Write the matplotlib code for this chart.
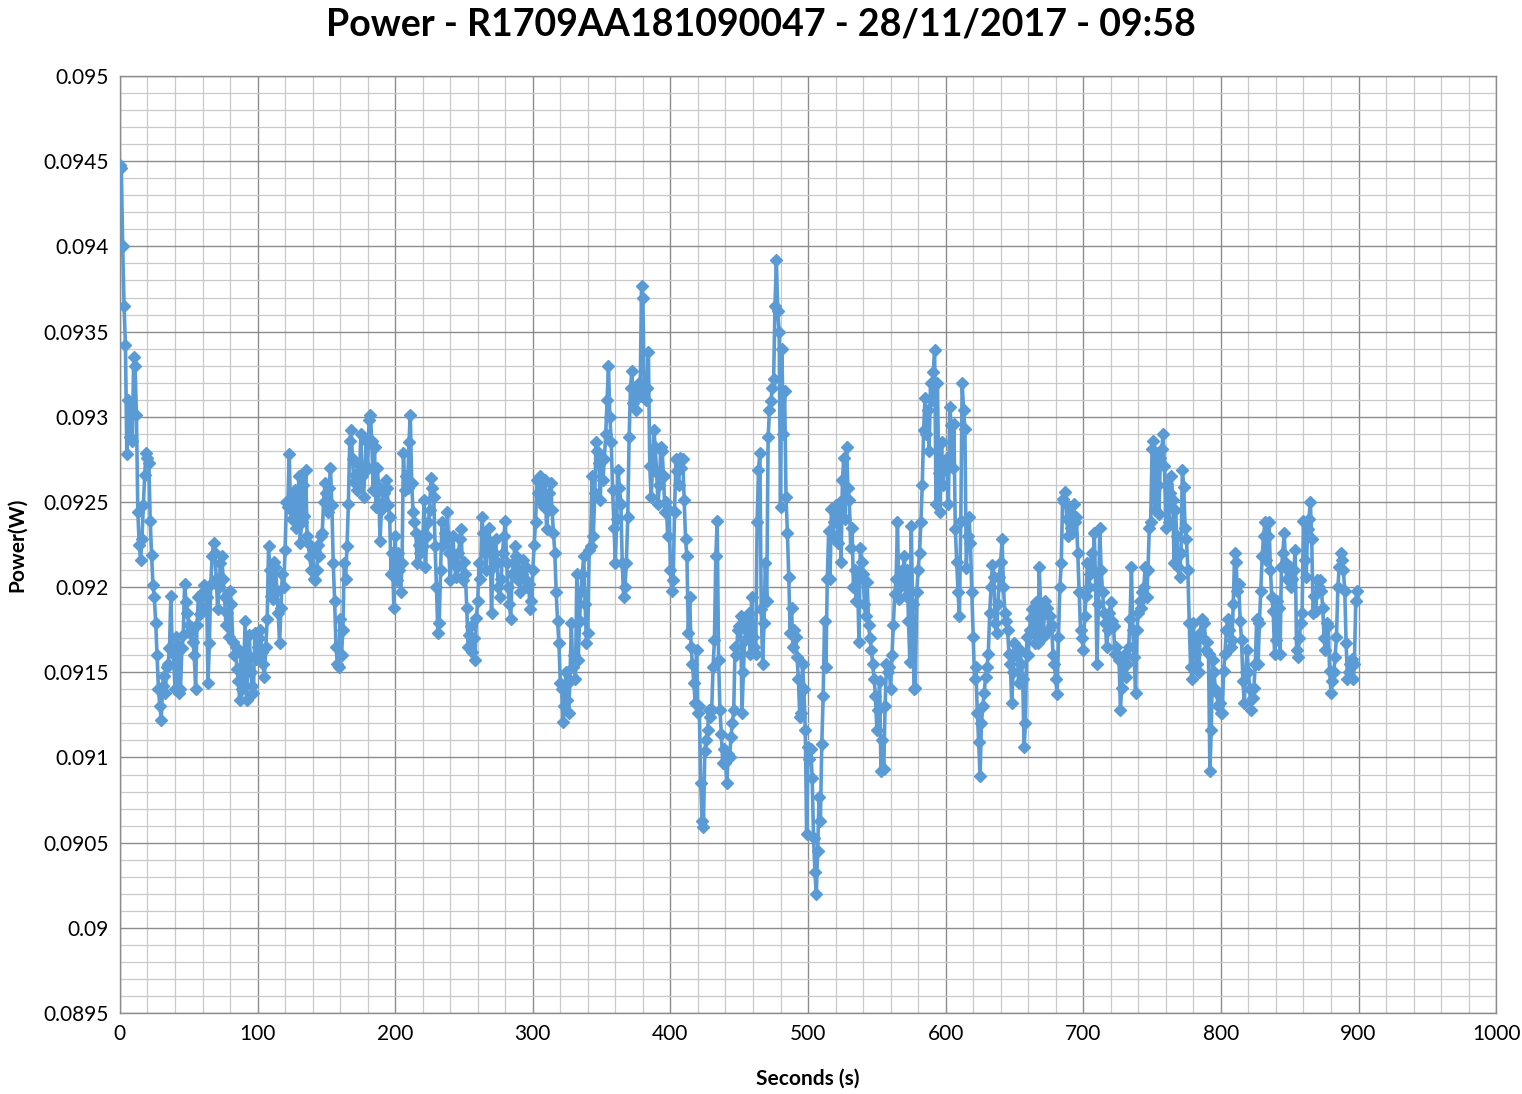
import matplotlib.pyplot as plt
import numpy as np

plt.rcParams['font.family'] = ['Lato', 'DejaVu Sans']

chart_title = 'Power - R1709AA181090047 - 28/11/2017 - 09:58'
x_label = 'Seconds (s)'
y_label = 'Power(W)'

# power readings in mW, one per second (20 s per row)
power_mw = [
    94.48, 94.46, 94.00, 93.65, 93.42, 92.78, 93.10, 92.88, 93.05, 92.86, 93.35, 93.30, 93.01, 92.44, 92.25, 92.16, 92.28, 92.48, 92.66, 92.79,
    92.76, 92.73, 92.39, 92.19, 92.01, 91.94, 91.79, 91.60, 91.40, 91.30, 91.22, 91.42, 91.48, 91.38, 91.53, 91.55, 91.64, 91.95, 91.64, 91.60,
    91.40, 91.71, 91.66, 91.38, 91.40, 91.64, 91.72, 92.02, 91.91, 91.85, 91.78, 91.73, 91.75, 91.68, 91.60, 91.40, 91.78, 91.94, 91.84, 91.96,
    91.88, 92.01, 91.97, 91.94, 91.44, 91.67, 92.02, 92.18, 92.26, 92.20, 92.05, 91.87, 92.00, 92.14, 92.18, 92.05, 91.94, 91.78, 91.85, 91.71,
    91.98, 91.90, 91.68, 91.60, 91.65, 91.52, 91.45, 91.34, 91.62, 91.40, 91.55, 91.80, 91.34, 91.60, 91.72, 91.50, 91.42, 91.38, 91.73, 91.58,
    91.65, 91.70, 91.75, 91.62, 91.55, 91.47, 91.65, 91.81, 92.24, 92.10, 91.95, 91.93, 92.15, 92.12, 91.98, 91.85, 91.67, 91.88, 92.08, 92.00,
    92.22, 92.50, 92.47, 92.78, 92.45, 92.40, 92.55, 92.57, 92.35, 92.42, 92.65, 92.26, 92.38, 92.60, 92.42, 92.69, 92.30, 92.26, 92.18, 92.10,
    92.22, 92.05, 92.04, 92.10, 92.25, 92.18, 92.30, 92.32, 92.50, 92.61, 92.55, 92.44, 92.58, 92.70, 92.48, 92.14, 91.92, 91.65, 91.55, 91.53,
    91.81, 91.60, 91.75, 92.14, 92.05, 92.24, 92.49, 92.86, 92.92, 92.75, 92.62, 92.66, 92.57, 92.72, 92.60, 92.90, 92.65, 92.53, 92.68, 92.86,
    92.70, 92.98, 93.01, 92.86, 92.57, 92.82, 92.47, 92.70, 92.59, 92.27, 92.45, 92.50, 92.55, 92.63, 92.58, 92.48, 92.41, 92.08, 92.20, 91.88,
    92.30, 92.04, 92.20, 92.10, 91.97, 92.14, 92.79, 92.57, 92.65, 92.58, 92.85, 93.01, 92.61, 92.44, 92.38, 92.32, 92.14, 92.25, 92.20, 92.30,
    92.24, 92.51, 92.12, 92.30, 92.38, 92.45, 92.64, 92.58, 92.53, 92.24, 92.00, 91.73, 91.79, 92.10, 92.38, 92.25, 92.32, 92.28, 92.44, 92.20,
    92.04, 92.20, 92.30, 92.15, 92.06, 92.12, 92.20, 92.28, 92.34, 92.04, 92.15, 92.08, 91.88, 91.65, 91.72, 91.77, 91.62, 91.70, 91.57, 91.82,
    91.92, 92.14, 92.05, 92.41, 92.32, 92.20, 92.10, 92.28, 92.35, 92.24, 91.85, 92.12, 92.20, 92.28, 92.15, 92.00, 91.94, 92.05, 92.20, 92.30,
    92.39, 92.14, 92.00, 91.90, 91.81, 92.08, 92.15, 92.24, 92.18, 92.04, 92.10, 91.97, 92.08, 92.16, 92.05, 92.12, 92.00, 92.02, 91.87, 91.92,
    92.10, 92.25, 92.38, 92.63, 92.55, 92.65, 92.50, 92.60, 92.47, 92.63, 92.34, 92.45, 92.55, 92.61, 92.45, 92.32, 92.20, 91.97, 91.80, 91.67,
    91.44, 91.40, 91.21, 91.30, 91.50, 91.34, 91.26, 91.45, 91.79, 91.53, 91.60, 91.46, 92.08, 91.57, 91.80, 91.98, 92.08, 92.18, 91.90, 91.67,
    91.73, 92.22, 92.24, 92.65, 92.30, 92.55, 92.85, 92.80, 92.73, 92.51, 92.76, 92.63, 92.75, 92.90, 93.10, 93.30, 93.00, 92.85, 92.57, 92.35,
    92.14, 92.40, 92.69, 92.58, 92.49, 92.14, 91.94, 92.00, 92.14, 92.41, 92.88, 93.17, 93.27, 93.08, 93.12, 93.04, 93.14, 93.20, 93.12, 93.77,
    93.70, 93.16, 93.10, 93.17, 93.38, 92.71, 92.53, 92.70, 92.92, 92.82, 92.67, 92.49, 92.60, 92.82, 92.80, 92.65, 92.44, 92.50, 92.30, 92.45,
    92.10, 91.98, 92.04, 92.44, 92.75, 92.68, 92.60, 92.76, 92.70, 92.75, 92.51, 92.28, 92.18, 91.73, 91.94, 91.65, 91.55, 91.44, 91.32, 91.63,
    91.26, 91.30, 90.85, 90.63, 90.59, 91.04, 91.10, 91.16, 91.28, 91.24, 91.28, 91.53, 91.69, 92.18, 92.39, 91.57, 91.28, 91.14, 90.97, 91.05,
    90.97, 90.85, 91.02, 91.00, 91.12, 91.20, 91.28, 91.65, 91.60, 91.75, 91.77, 91.83, 91.26, 91.50, 91.69, 91.75, 91.80, 91.85, 91.61, 91.94,
    91.71, 91.65, 91.61, 92.38, 92.69, 92.79, 91.87, 91.55, 91.79, 92.14, 91.92, 92.88, 93.04, 93.09, 93.17, 93.22, 93.65, 93.92, 93.62, 93.50,
    92.47, 93.40, 92.90, 93.15, 92.53, 92.32, 92.06, 91.73, 91.88, 91.65, 91.75, 91.71, 91.59, 91.46, 91.24, 91.26, 91.55, 91.40, 91.16, 90.55,
    91.06, 90.99, 91.05, 90.88, 90.53, 90.33, 90.20, 90.45, 90.77, 90.63, 91.08, 91.36, 91.80, 91.53, 92.05, 92.33, 92.05, 92.46, 92.30, 92.38,
    92.48, 92.41, 92.26, 92.50, 92.15, 92.63, 92.76, 92.40, 92.82, 92.58, 92.51, 92.23, 92.35, 92.00, 92.10, 91.92, 92.05, 91.68, 92.23, 92.15,
    92.08, 91.90, 91.83, 92.03, 91.78, 91.70, 91.63, 91.55, 91.46, 91.36, 91.16, 91.28, 91.45, 90.92, 91.10, 90.93, 91.30, 91.55, 91.50, 91.53,
    91.40, 91.60, 91.78, 91.96, 92.05, 92.38, 91.93, 92.00, 92.10, 92.05, 92.18, 91.95, 92.10, 91.80, 91.56, 92.36, 91.90, 91.40, 91.41, 91.97,
    92.10, 92.20, 92.38, 92.60, 92.92, 93.11, 92.90, 93.04, 92.80, 93.20, 93.10, 93.26, 93.39, 92.49, 93.20, 92.67, 92.44, 92.85, 92.60, 92.70,
    92.69, 92.76, 92.49, 93.06, 92.95, 92.70, 92.96, 92.34, 92.15, 91.97, 91.83, 92.39, 93.20, 93.04, 92.93, 92.11, 92.30, 92.41, 92.26, 91.97,
    91.71, 91.46, 91.53, 91.26, 91.09, 90.89, 91.20, 91.30, 91.38, 91.47, 91.53, 91.61, 91.85, 92.00, 92.13, 92.06, 91.79, 91.73, 91.90, 92.06,
    92.15, 92.28, 92.00, 91.85, 91.80, 91.75, 91.61, 91.55, 91.32, 91.50, 91.67, 91.60, 91.63, 91.44, 91.63, 91.55, 91.46, 91.06, 91.20, 91.71,
    91.60, 91.75, 91.82, 91.87, 91.75, 91.67, 91.91, 91.67, 92.12, 91.90, 91.75, 91.71, 91.92, 91.85, 91.88, 91.75, 91.83, 91.78, 91.60, 91.55,
    91.46, 91.37, 91.71, 92.00, 92.14, 92.52, 92.50, 92.56, 92.40, 92.30, 92.47, 92.35, 92.32, 92.49, 92.38, 92.41, 92.20, 91.97, 91.75, 91.70,
    91.63, 91.83, 91.95, 92.14, 92.00, 92.08, 92.20, 92.10, 92.32, 92.00, 91.55, 91.90, 92.35, 92.10, 91.97, 91.85, 91.79, 91.65, 91.75, 91.85,
    91.91, 91.80, 91.77, 91.61, 91.65, 91.60, 91.57, 91.28, 91.41, 91.55, 91.61, 91.47, 91.55, 91.65, 91.81, 92.12, 91.75, 91.59, 91.38, 91.75,
    91.85, 91.92, 91.88, 91.97, 92.00, 92.12, 91.94, 92.10, 92.35, 92.38, 92.81, 92.86, 92.45, 92.79, 92.60, 92.43, 92.76, 92.81, 92.90, 92.71,
    92.35, 92.60, 92.38, 92.55, 92.65, 92.51, 92.14, 92.45, 92.30, 92.12, 92.06, 92.20, 92.69, 92.59, 92.35, 92.28, 92.10, 91.79, 91.53, 91.46,
    91.79, 91.61, 91.70, 91.55, 91.50, 91.73, 91.81, 91.70, 91.79, 91.63, 91.68, 91.61, 90.92, 91.16, 91.57, 91.50, 91.40, 91.38, 91.30, 91.32,
    91.26, 91.26, 91.51, 91.61, 91.75, 91.81, 91.75, 91.65, 91.69, 91.90, 92.20, 92.15, 91.98, 92.02, 91.80, 91.69, 91.45, 91.32, 91.50, 91.63,
    91.50, 91.40, 91.28, 91.35, 91.41, 91.55, 91.81, 91.55, 91.79, 91.98, 92.18, 92.30, 92.38, 92.16, 92.30, 92.38, 92.10, 91.94, 91.86, 91.61,
    91.69, 91.92, 91.88, 91.61, 92.12, 92.20, 92.32, 92.14, 92.05, 92.10, 92.12, 92.00, 92.05, 92.10, 92.22, 91.63, 91.59, 91.70, 91.79, 91.85,
    92.39, 92.16, 92.06, 92.34, 92.40, 92.50, 92.28, 91.85, 91.95, 91.86, 92.04, 92.00, 92.04, 91.98, 91.88, 91.70, 91.63, 91.79, 91.77, 91.51,
    91.38, 91.45, 91.50, 91.59, 91.71, 92.00, 92.12, 92.20, 92.16, 92.10, 91.98, 91.67, 91.46, 91.50, 91.55, 91.58, 91.46, 91.55, 91.92, 91.98,
]

x_ticks = [0, 100, 200, 300, 400, 500, 600, 700, 800, 900, 1000]
y_ticks = [0.0895, 0.09, 0.0905, 0.091, 0.0915, 0.092, 0.0925, 0.093, 0.0935, 0.094, 0.0945, 0.095]
y_tick_labels = ['0.0895', '0.09', '0.0905', '0.091', '0.0915', '0.092', '0.0925',
                 '0.093', '0.0935', '0.094', '0.0945', '0.095']

seconds = np.arange(len(power_mw))
power_w = np.array(power_mw) / 1000.0

fig = plt.figure(figsize=(15.22, 10.94), dpi=100)
ax = fig.add_axes([0.0788, 0.074, 0.9042, 0.8565])

ax.plot(seconds, power_w, color='#5B9BD5', lw=2.6, marker='D', markersize=6.5,
        markerfacecolor='#5B9BD5', markeredgecolor='#5B9BD5', zorder=3)

ax.set_xlim(0, 1000)
ax.set_ylim(0.0895, 0.095)
ax.set_xticks(x_ticks)
ax.set_xticks(np.arange(0, 1001, 20), minor=True)
ax.set_yticks(y_ticks)
ax.set_yticklabels(y_tick_labels)
ax.set_yticks(np.linspace(0.0895, 0.095, 56), minor=True)

ax.grid(which='major', color='#8c8c8c', lw=1.0, zorder=1)
ax.grid(which='minor', color='#c9c9c9', lw=0.9, zorder=0)
for sp in ax.spines.values():
    sp.set_color('#8c8c8c')
    sp.set_linewidth(1.0)

ax.tick_params(which='both', length=0)
ax.tick_params(axis='both', labelsize=15, colors='black', pad=8)

ax.set_xlabel(x_label, fontsize=15, fontweight='bold', labelpad=18)
ax.set_ylabel(y_label, fontsize=15, fontweight='bold', labelpad=12)
fig.suptitle(chart_title, fontsize=27, fontweight='bold', x=0.5, y=0.993)

plt.savefig('out.png', dpi=100)
